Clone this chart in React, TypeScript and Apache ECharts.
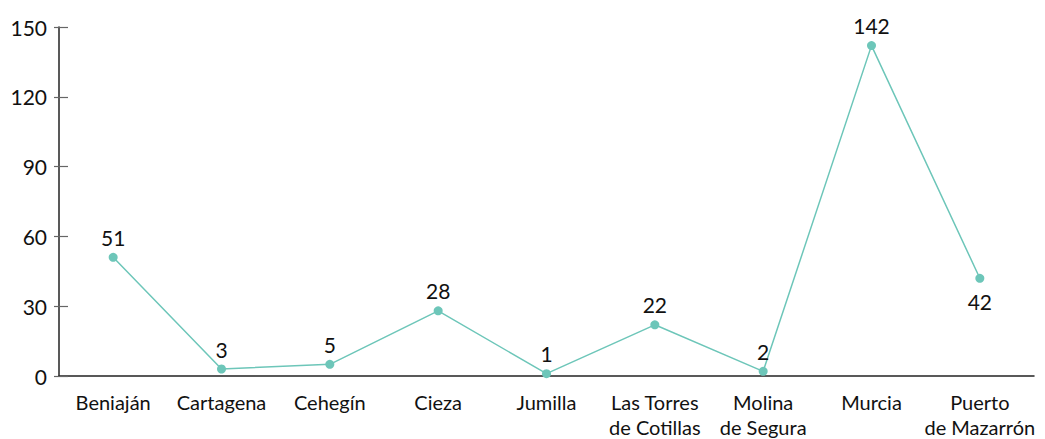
import React, { useEffect, useRef } from "react";
import * as echarts from "echarts";

const categories = [
  "Beniaján",
  "Cartagena",
  "Cehegín",
  "Cieza",
  "Jumilla",
  "Las Torres\nde Cotillas",
  "Molina\nde Segura",
  "Murcia",
  "Puerto\nde Mazarrón",
];
const values = [51, 3, 5, 28, 1, 22, 2, 142, 42];
const belowLabelIndex = [8];

const FONT = "Lato, 'Noto Sans', sans-serif";

export default function App() {
  const ref = useRef<HTMLDivElement>(null);
  useEffect(() => {
    document.body.style.margin = "0";
    const chart = echarts.init(ref.current!, undefined, { renderer: "svg" });
    const data = values.map((v, i) =>
      belowLabelIndex.includes(i)
        ? { value: v, label: { position: "bottom", distance: 8 } }
        : v
    );
    chart.setOption({
      animation: false,
      grid: { left: 59, right: 11, top: 27, bottom: 63, containLabel: false, outerBoundsMode: "none" },
      textStyle: { fontFamily: FONT },
      xAxis: {
        type: "category",
        data: categories,
        boundaryGap: true,
        axisLine: { lineStyle: { color: "#222", width: 1.5 } },
        axisTick: { inside: true, length: 8, lineStyle: { color: "#666", width: 1.2 } },
        axisLabel: {
          color: "#111",
          fontSize: 20,
          lineHeight: 25,
          margin: 13,
          fontFamily: FONT,
          interval: 0,
        },
      },
      yAxis: [
        {
          type: "value",
          min: 0,
          max: 150,
          interval: 30,
          axisLine: { show: true, lineStyle: { color: "#222", width: 1.5 } },
          axisTick: { show: true, length: 5, lineStyle: { color: "#666", width: 1.2 } },
          axisLabel: { color: "#111", fontSize: 21, margin: 12, fontFamily: FONT },
          splitLine: { show: false },
        },
        {
          type: "value",
          position: "left",
          min: 0,
          max: 150,
          interval: 30,
          axisLine: { show: false },
          axisTick: { show: true, inside: true, length: 9, lineStyle: { color: "#666", width: 1.2 } },
          axisLabel: { show: false },
          splitLine: { show: false },
        },
      ],
      series: [
        {
          type: "line",
          data,
          yAxisIndex: 0,
          symbol: "circle",
          symbolSize: 9,
          itemStyle: { color: "#6dc6b9" },
          lineStyle: { color: "#6dc6b9", width: 1.5 },
          label: {
            show: true,
            position: "top",
            distance: 5,
            color: "#111",
            fontSize: 21,
            fontFamily: FONT,
          },
        },
      ],
    });
    return () => chart.dispose();
  }, []);
  return <div ref={ref} style={{ width: 1045, height: 439 }} />;
}
